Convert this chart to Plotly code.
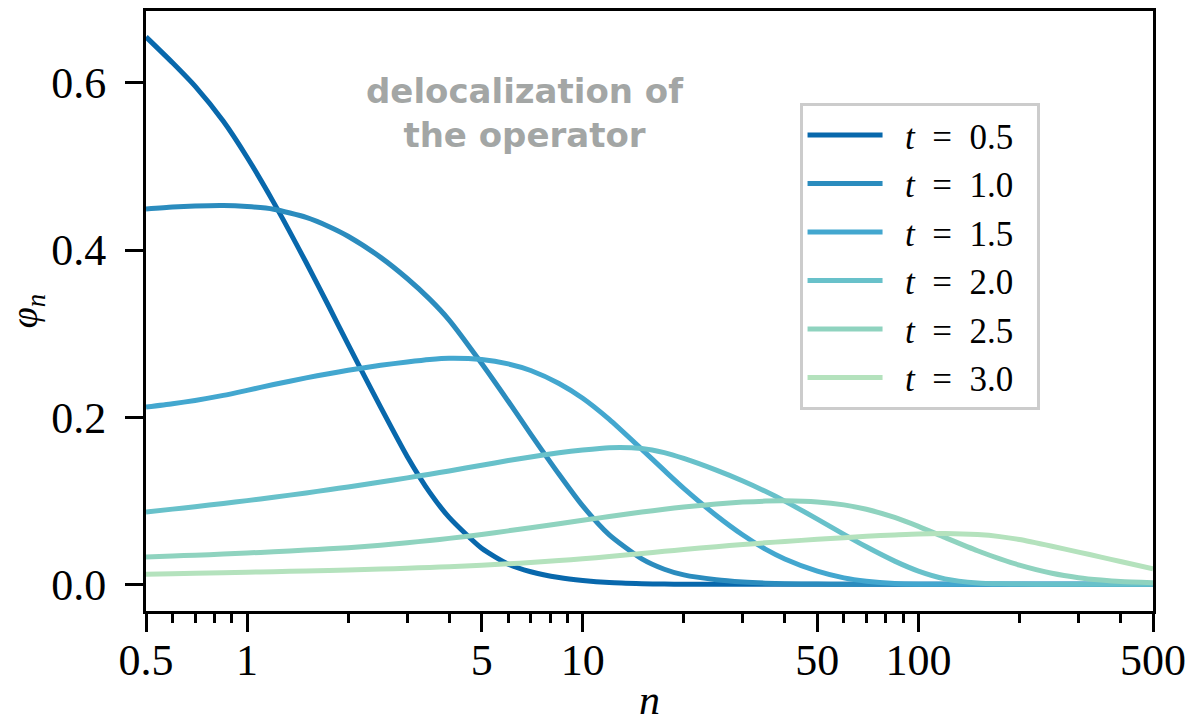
import plotly.graph_objects as go

# sampled positions along n (log axis)
n_vals = [0.5, 0.6, 0.7, 0.85, 1, 1.2, 1.5, 1.75, 2, 2.5, 3, 3.5, 4, 5, 6, 7, 8.5, 10, 12, 15,
          17.5, 20, 25, 30, 35, 40, 50, 60, 70, 85, 100, 120, 150, 175, 200, 250, 300, 350, 400, 500]

phi_t05 = [0.655, 0.624, 0.596, 0.554, 0.511, 0.457, 0.385, 0.333, 0.287, 0.212, 0.153, 0.110, 0.080, 0.043,
           0.024, 0.015, 0.008, 0.0045, 0.002, 0.0007, 0.0002, 0.0, 0.0, 0.0, 0.0, 0.0, 0.0, 0.0, 0.0, 0.0,
           0.0, 0.0, 0.0, 0.0, 0.0, 0.0, 0.0, 0.0, 0.0, 0.0]
phi_t10 = [0.449, 0.4514, 0.4527, 0.4533, 0.452, 0.4488, 0.439, 0.4282, 0.4165, 0.3912, 0.3659, 0.3412, 0.3162, 0.2642,
           0.219, 0.1797, 0.1316, 0.0937, 0.0591, 0.0304, 0.018, 0.0112, 0.0054, 0.0027, 0.0013, 0.0006, 0.0002, 0.0, 0.0, 0.0,
           0.0, 0.0, 0.0, 0.0, 0.0, 0.0, 0.0, 0.0, 0.0, 0.0]
phi_t15 = [0.212, 0.216, 0.220, 0.226, 0.232, 0.239, 0.247, 0.252, 0.256, 0.262, 0.266, 0.269, 0.2705, 0.269,
           0.2637, 0.2558, 0.2402, 0.2225, 0.1972, 0.1614, 0.1362, 0.1148, 0.0823, 0.0589, 0.042, 0.0303, 0.0156, 0.0076, 0.0036, 0.0008,
           0.0, 0.0, 0.0, 0.0, 0.0, 0.0, 0.0, 0.0, 0.0, 0.0]
phi_t20 = [0.0865, 0.0899, 0.0928, 0.0967, 0.1001, 0.1041, 0.1093, 0.1131, 0.1165, 0.1223, 0.1273, 0.1317, 0.1356, 0.1424,
           0.148, 0.1524, 0.1573, 0.1607, 0.1635, 0.1625, 0.1575, 0.1505, 0.1365, 0.1235, 0.1112, 0.0995, 0.078, 0.0597, 0.0448, 0.0277,
           0.0158, 0.0065, 0.0016, 0.0005, 0.0002, 0.0, 0.0, 0.0, 0.0, 0.0]
phi_t25 = [0.0327, 0.0338, 0.0348, 0.0361, 0.0374, 0.0389, 0.0409, 0.0424, 0.0438, 0.0467, 0.0497, 0.0524, 0.0549, 0.0595,
           0.0639, 0.0677, 0.0725, 0.0766, 0.081, 0.0864, 0.0898, 0.0925, 0.0961, 0.0983, 0.0995, 0.0998, 0.0985, 0.095, 0.0897, 0.080,
           0.0693, 0.056, 0.0401, 0.0304, 0.023, 0.0132, 0.0079, 0.005, 0.0032, 0.0019]
phi_t30 = [0.012, 0.0126, 0.0131, 0.0138, 0.0144, 0.0151, 0.0159, 0.0165, 0.0171, 0.0182, 0.0192, 0.0202, 0.0211, 0.0228,
           0.0244, 0.026, 0.0283, 0.0305, 0.0332, 0.0368, 0.0394, 0.0416, 0.045, 0.0476, 0.0496, 0.0512, 0.0538, 0.0558, 0.0574, 0.059,
           0.0602, 0.0606, 0.0594, 0.057, 0.0535, 0.0455, 0.0385, 0.0325, 0.0272, 0.0185]

series_labels = ["0.5", "1.0", "1.5", "2.0", "2.5", "3.0"]
series_values = [phi_t05, phi_t10, phi_t15, phi_t20, phi_t25, phi_t30]
colors = ["#0868ac", "#2b8cbe", "#43a7cf", "#68c1ca", "#8fd3bf", "#b4e2bd"]

x_tick_vals = [0.5, 1, 5, 10, 50, 100, 500]
x_tick_text = ["0.5", "1", "5", "10", "50", "100", "500"]
x_minor_vals = [0.6, 0.7, 0.8, 0.9, 2, 3, 4, 6, 7, 8, 9, 20, 30, 40, 60, 70, 80, 90, 200, 300, 400]
y_tick_vals = [0.0, 0.2, 0.4, 0.6]
y_tick_text = ["0.0", "0.2", "0.4", "0.6"]

SERIF = "Liberation Serif, DejaVu Serif, serif"
NB = "\u00a0"

fig = go.Figure()
for lab, vals, col in zip(series_labels, series_values, colors):
    fig.add_trace(go.Scatter(
        x=n_vals, y=vals, mode="lines",
        line=dict(color=col, width=5, shape="spline", smoothing=0.6),
        name=f"{NB*2}<i>t</i>{NB*2}={NB*2}{lab}{NB*2}",
    ))

fig.add_annotation(
    text="delocalization of<br>the operator",
    xref="paper", yref="paper", x=0.376, y=0.830,
    xanchor="center", yanchor="middle", showarrow=False,
    font=dict(family="DejaVu Sans, sans-serif", size=34, color="#a3a6a5", weight="bold"),
    align="center",
)

fig.update_layout(
    width=1191, height=723,
    margin=dict(l=146, r=38, t=11, b=112),
    paper_bgcolor="white", plot_bgcolor="white",
    font=dict(family=SERIF, color="black"),
    showlegend=True,
    legend=dict(
        x=0.649, y=0.847, xanchor="left", yanchor="top",
        bgcolor="white", bordercolor="#cccccc", borderwidth=3,
        font=dict(family=SERIF, size=35, color="black"),
        itemwidth=75, tracegroupgap=0,
    ),
    xaxis=dict(
        type="log", range=[-0.30103, 2.69897], automargin=False,
        tickmode="array", tickvals=x_tick_vals, ticktext=x_tick_text,
        ticks="outside", ticklen=18, tickwidth=3, tickcolor="black",
        showline=True, linecolor="black", linewidth=3, mirror=True,
        showgrid=False, zeroline=False,
        tickfont=dict(family=SERIF, size=44, color="black"),
        ticklabelstandoff=-10,
        minor=dict(tickvals=x_minor_vals, ticks="outside", ticklen=9, tickwidth=3, tickcolor="black", showgrid=False),
        title=dict(text="<i>n</i>", font=dict(family=SERIF, size=42, color="black"), standoff=6),
    ),
    yaxis=dict(
        range=[-0.032, 0.686], automargin=False,
        tickmode="array", tickvals=y_tick_vals, ticktext=y_tick_text,
        ticks="outside", ticklen=18, tickwidth=3, tickcolor="black",
        showline=True, linecolor="black", linewidth=3, mirror=True,
        showgrid=False, zeroline=False,
        tickfont=dict(family=SERIF, size=44, color="black"),
        ticklabelstandoff=10,
        title=dict(text="<i>φ</i><sub><i>n</i></sub>", font=dict(family=SERIF, size=38, color="black"), standoff=2),
    ),
)

fig.write_html("out.html", config={"displayModeBar": False},
               post_script="document.body.style.margin='0';document.body.style.padding='0';")
